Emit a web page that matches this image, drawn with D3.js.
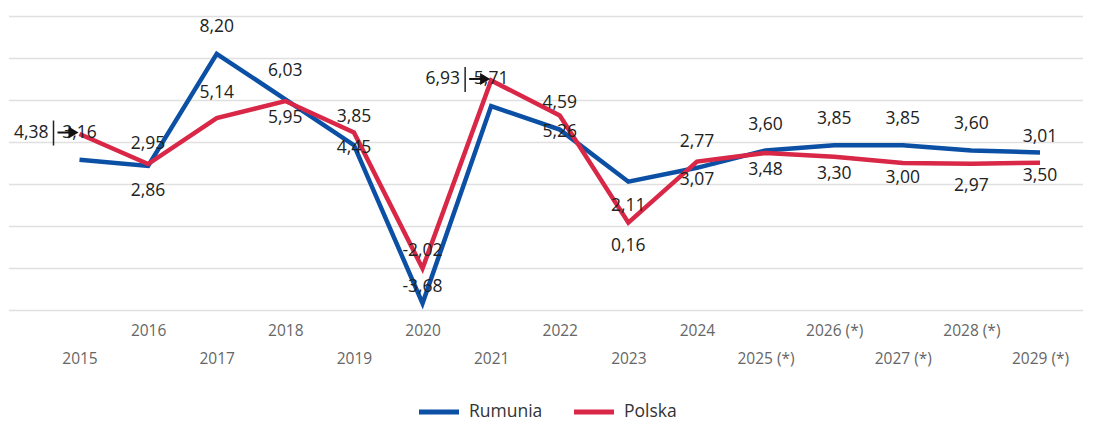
<!DOCTYPE html>
<html>
<head>
<meta charset="utf-8">
<script src="https://cdn.jsdelivr.net/npm/d3@7"></script>
<style>
   body { margin: 0; background: #fff; }
   svg text { font-family: "Open Sans", "Noto Sans", sans-serif; }
</style>
</head>
<body>
<svg id="chart" width="1093" height="422"></svg>
<script>
// data
var years = ["2015", "2016", "2017", "2018", "2019", "2020", "2021", "2022", "2023", "2024",
   "2025 (*)", "2026 (*)", "2027 (*)", "2028 (*)", "2029 (*)"];
var rumunia = [3.16, 2.86, 8.20, 6.03, 3.85, -3.68, 5.71, 4.59, 2.11, 2.77, 3.60, 3.85, 3.85, 3.60, 3.50];
var polska = [4.38, 2.95, 5.14, 5.95, 4.45, -2.02, 6.93, 5.26, 0.16, 3.07, 3.48, 3.30, 3.00, 2.97, 3.01];
var yTicks = [-4, -2, 0, 2, 4, 6, 8, 10];

// label placement (offset from the point, 'left' = pushed aside with a pointer)
var rumuniaLabelDy = [-28, 24, -28, -29, -29, -17, -28, -28, 23, -27, -27, -27, -27, -28, 22];
var polskaLabelDy = ['left', -21, -26, 16, 14, -19, 'left', 15, 22, 17, 16, 16, 14, 21, -27];

var blue = "#0b50a4";
var red = "#d92747";

window.onload = function() {
   var svg = d3.select("#chart");

   var x = d3.scalePoint().domain(years).range([79.5, 1040]);
   var y = d3.scaleLinear().domain([-4, 10]).range([310, 16]);

   // grid
   svg.append("g")
      .attr("transform", "translate(9,0)")
      .call(d3.axisLeft(y).tickValues(yTicks).tickSize(-1074).tickFormat(""))
      .call(function(g) {
         g.select(".domain").remove();
         g.selectAll(".tick line").attr("stroke", "#e0e0e0").attr("stroke-width", 1.5);
      });

   // x labels, staggered in two rows
   var xAxis = svg.append("g")
      .attr("transform", "translate(0,310)")
      .call(d3.axisBottom(x).tickSize(0))
      .call(function(g) { g.select(".domain").remove(); });
   xAxis.selectAll(".tick text")
      .attr("y", function(d, i) { return i % 2 ? 21 : 49; })
      .attr("dy", "0.35em")
      .attr("fill", "#666")
      .style("font-size", "15.5px");

   var series = [
      { name: "Rumunia", values: rumunia, color: blue, dy: rumuniaLabelDy },
      { name: "Polska", values: polska, color: red, dy: polskaLabelDy }
   ];

   var line = d3.line()
      .x(function(d, i) { return x(years[i]); })
      .y(function(d) { return y(d); });

   series.forEach(function(s) {
      svg.append("path")
         .datum(s.values)
         .attr("d", line)
         .attr("fill", "none")
         .attr("stroke", s.color)
         .attr("stroke-width", 4.5)
         .attr("stroke-linejoin", "miter");
   });

   var labels = svg.append("g")
      .style("font-size", "17.5px")
      .attr("fill", "#222");

   series.forEach(function(s) {
      s.values.forEach(function(v, i) {
         var px = x(years[i]);
         var py = y(v);
         var fmt = v.toFixed(2).replace(".", ",");
         if (s.dy[i] === 'left') {
            var ly = py - 2.5;
            labels.append("text")
               .attr("x", px - 31)
               .attr("y", ly)
               .attr("dy", "0.35em")
               .attr("text-anchor", "end")
               .text(fmt);
            labels.append("line")
               .attr("x1", px - 26).attr("x2", px - 26)
               .attr("y1", ly - 11).attr("y2", ly + 14)
               .attr("stroke", "#222").attr("stroke-width", 1.5);
            labels.append("line")
               .attr("x1", px - 22).attr("x2", px - 8)
               .attr("y1", ly + 1).attr("y2", ly + 1)
               .attr("stroke", "#111").attr("stroke-width", 2);
            labels.append("path")
               .attr("d", "M" + (px - 11) + "," + (ly - 5) + "L" + (px - 1) + "," + (ly + 1) +
                  "L" + (px - 11) + "," + (ly + 7) + "Z")
               .attr("fill", "#111");
         } else {
            labels.append("text")
               .attr("x", px)
               .attr("y", py + s.dy[i])
               .attr("dy", "0.35em")
               .attr("text-anchor", "middle")
               .text(fmt);
         }
      });
   });

   // legend
   var legend = svg.append("g").attr("transform", "translate(0,412)");
   var legendX = [419, 574];
   series.forEach(function(s, i) {
      legend.append("line")
         .attr("x1", legendX[i]).attr("x2", legendX[i] + 40)
         .attr("y1", 0).attr("y2", 0)
         .attr("stroke", s.color).attr("stroke-width", 5);
      legend.append("text")
         .attr("x", legendX[i] + 50)
         .attr("y", -1.5)
         .attr("dy", "0.35em")
         .attr("fill", "#333")
         .style("font-size", "17.5px")
         .text(s.name);
   });
};
</script>
</body>
</html>
